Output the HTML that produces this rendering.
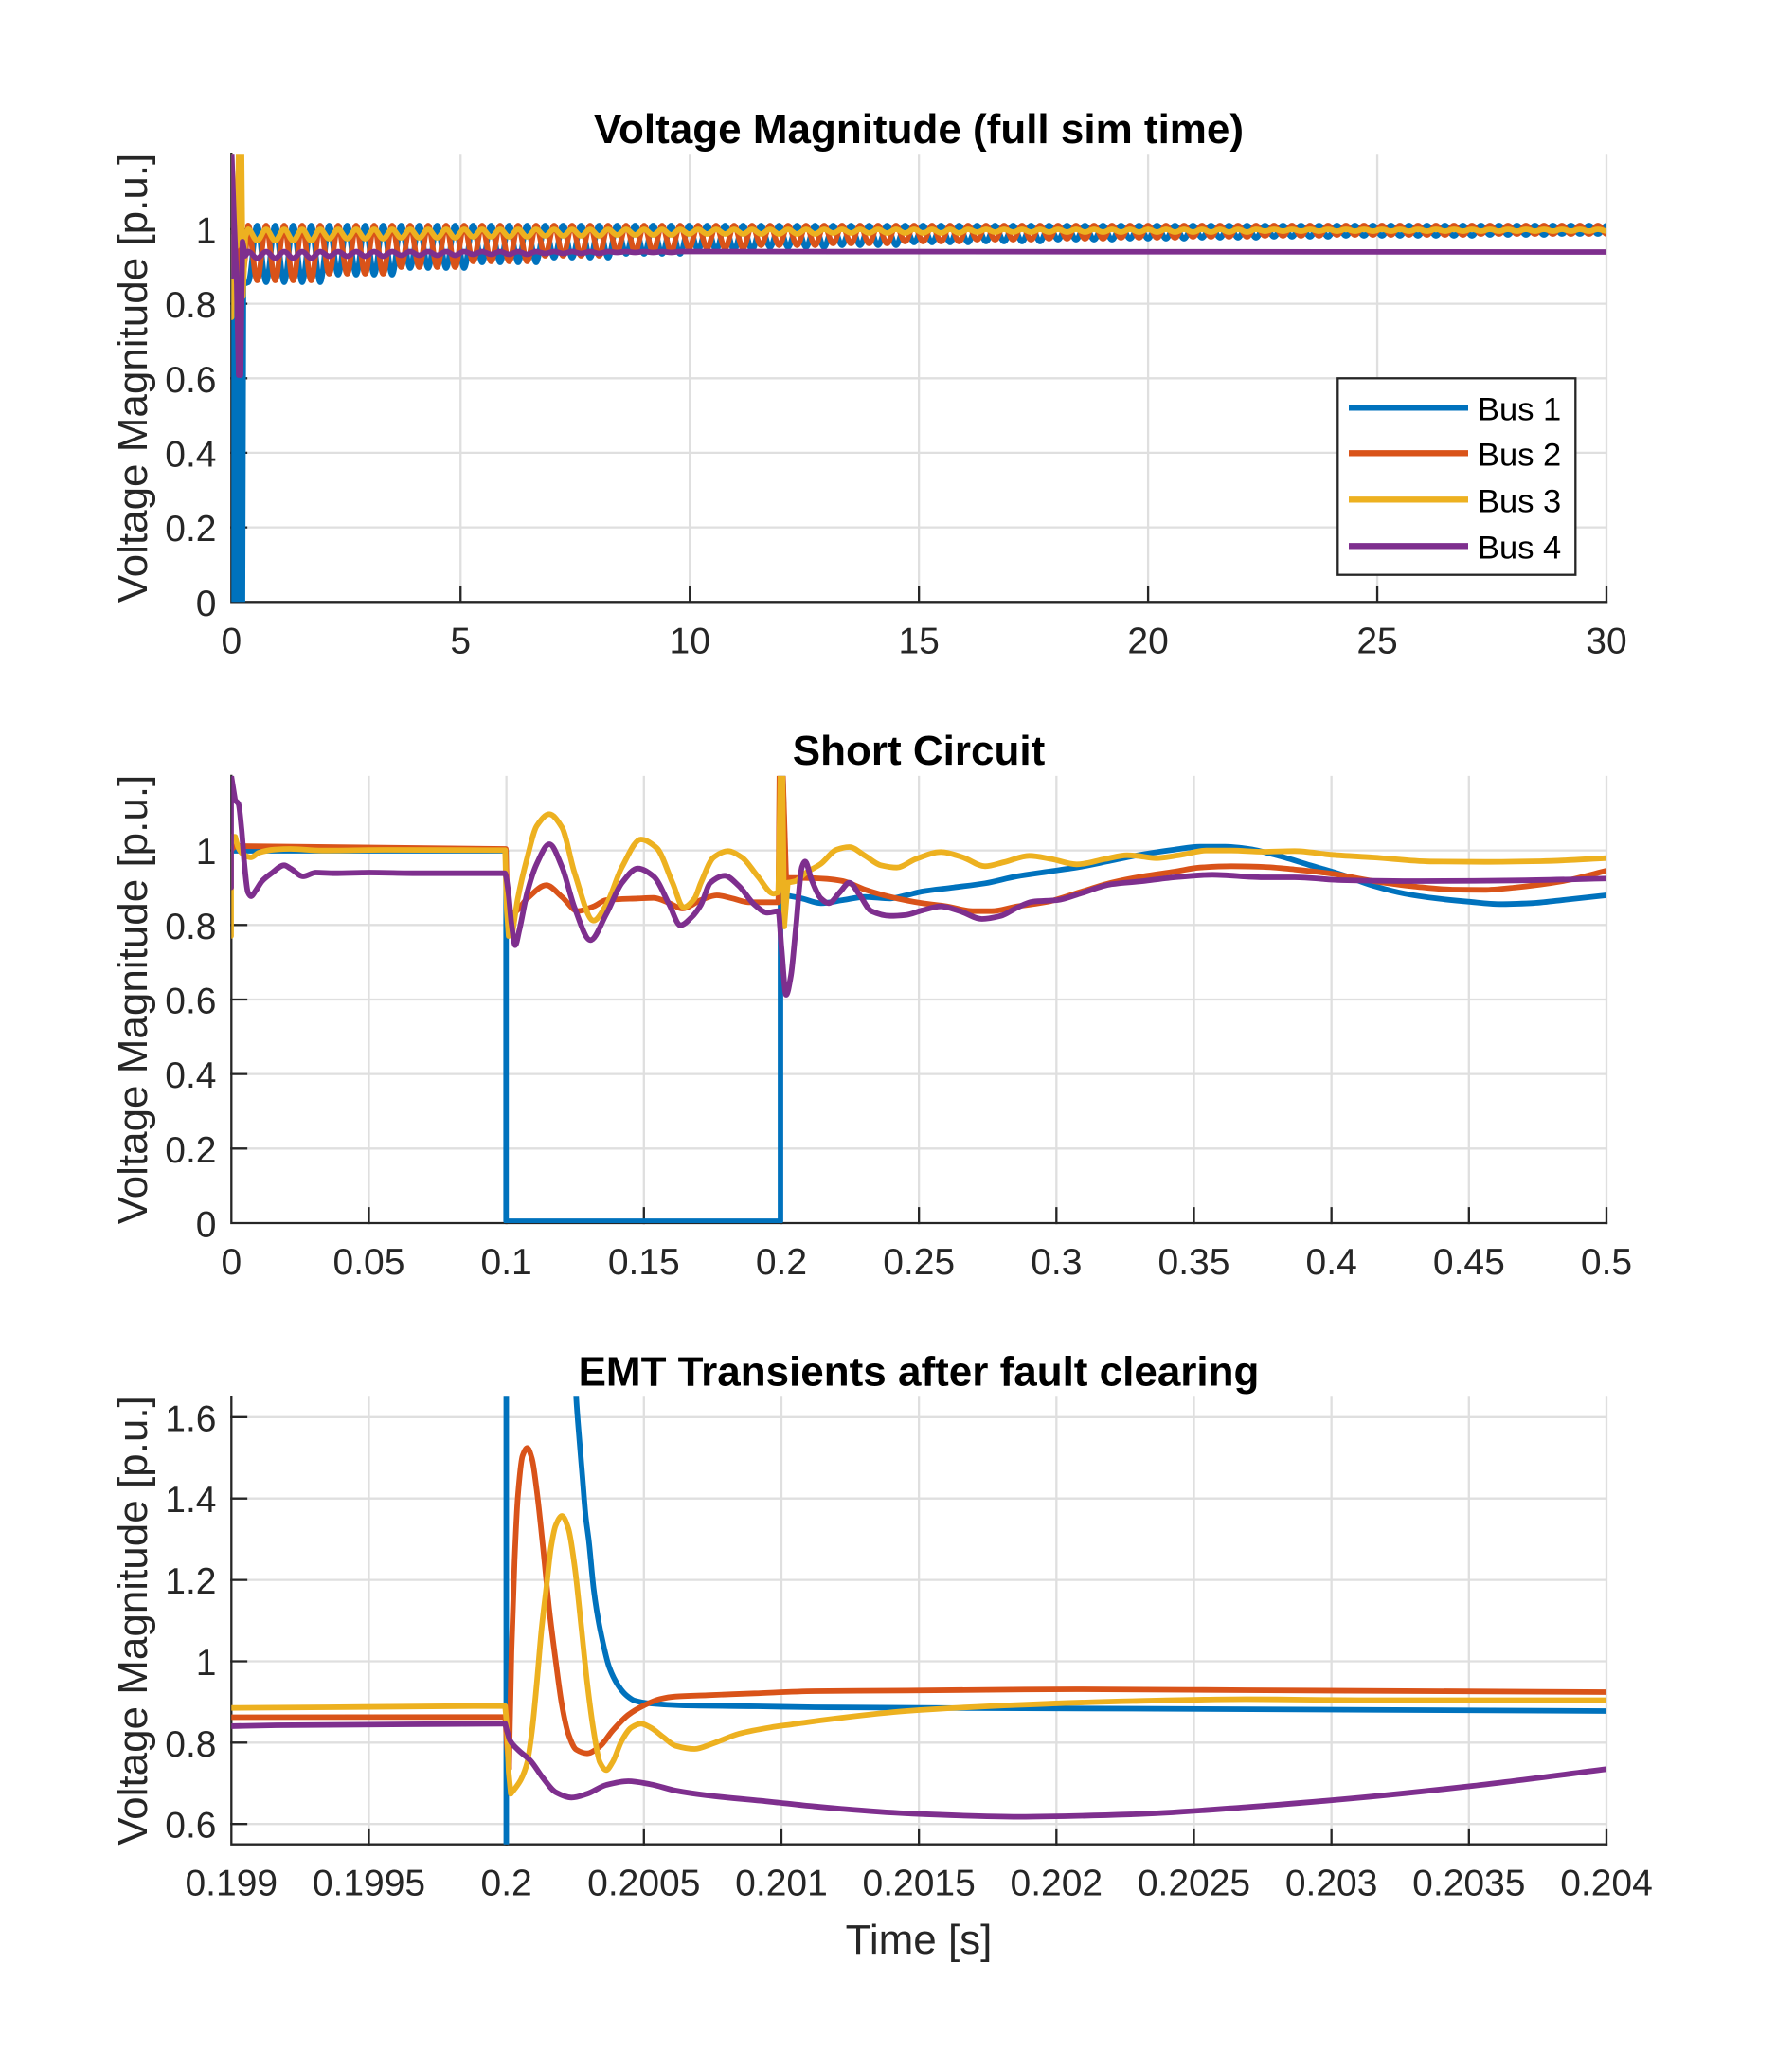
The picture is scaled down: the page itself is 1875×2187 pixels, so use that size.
<!DOCTYPE html>
<html>
<head>
<meta charset="utf-8">
<style>
html,body{margin:0;padding:0;background:#fff;}
svg{display:block;}
.tk{font-family:"Liberation Sans",Arial,sans-serif;font-size:39px;fill:#262626;}
.lb{font-family:"Liberation Sans",Arial,sans-serif;font-size:44px;fill:#262626;}
.tt{font-family:"Liberation Sans",Arial,sans-serif;font-size:44px;font-weight:bold;fill:#000;}
.lg{font-family:"Liberation Sans",Arial,sans-serif;font-size:34.5px;fill:#000;}
.g{stroke:#dfdfdf;stroke-width:2.3;fill:none;}
.ax{stroke:#262626;stroke-width:2.3;fill:none;stroke-linecap:square;}
.d{fill:none;stroke-width:5.8;stroke-linejoin:round;stroke-linecap:round;}
.b{stroke:#0072BD;} .o{stroke:#D95319;} .y{stroke:#EDB120;} .p{stroke:#7E2F8E;}
</style>
</head>
<body>
<svg width="1875" height="2187" viewBox="0 0 1875 2187" xmlns="http://www.w3.org/2000/svg">
<defs>
<clipPath id="c1"><rect x="244.3" y="163.2" width="1451.7" height="472.1"/></clipPath>
<clipPath id="c2"><rect x="244.3" y="818.9" width="1451.7" height="472.1"/></clipPath>
<clipPath id="c3"><rect x="244.3" y="1474.3" width="1451.7" height="472.4"/></clipPath>
</defs>

<!-- ================= AXES 1 ================= -->
<g class="g">
<path d="M486.25,163.2V635.3M728.2,163.2V635.3M970.15,163.2V635.3M1212.1,163.2V635.3M1454.05,163.2V635.3M1696,163.2V635.3"/>
<path d="M244.3,556.6H1696M244.3,477.9H1696M244.3,399.3H1696M244.3,320.6H1696M244.3,241.9H1696"/>
</g>
<g class="ax">
<path d="M244.3,163.2V635.3H1696"/>
<path d="M486.25,635.3v-15.7M728.2,635.3v-15.7M970.15,635.3v-15.7M1212.1,635.3v-15.7M1454.05,635.3v-15.7M1696,635.3v-15.7"/>
<path d="M244.3,556.6h15.7M244.3,477.9h15.7M244.3,399.3h15.7M244.3,320.6h15.7M244.3,241.9h15.7"/>
</g>
<g clip-path="url(#c1)">
<path class="d b" d="M246,250 L246,640 L249,640 L250,255 L253,640 L256,640 L257,300 L262,298"/>
<path class="d b" d="M262,298 C265.4,298 268.1,238 271.5,238 c3.4 0 6.1 60 9.5 60 3.4 0 6.1-60 9.5-60 3.4 0 6.1 60 9.5 60 3.4 0 6.1-60 9.5-60 3.4 0 6.1 60 9.5 60 3.4 0 6.1-60 9.5-60 3.4 0 6.1 60 9.5 60 3.4 0 6.1-60 9.5-60 3.4 0 6.1 52 9.5 52 3.4 0 6.1-52 9.5-52 3.4 0 6.1 52 9.5 52 3.4 0 6.1-52 9.5-52 3.4 0 6.1 52 9.5 52 3.4 0 6.1-52 9.5-52 3.4 0 6.1 52 9.5 52 3.4 0 6.1-52 9.5-52 3.4 0 6.1 45 9.5 45 3.4 0 6.1-45 9.5-45 3.4 0 6.1 45 9.5 45 3.4 0 6.1-45 9.5-45 3.4 0 6.1 45 9.5 45 3.4 0 6.1-45 9.5-45 3.4 0 6.1 45 9.5 45 3.4 0 6.1-45 9.5-45 3.4 0 6.1 39 9.5 39 3.4 0 6.1-39 9.5-39 3.4 0 6.1 39 9.5 39 3.4 0 6.1-39 9.5-39 3.4 0 6.1 39 9.5 39 3.4 0 6.1-39 9.5-39 3.4 0 6.1 39 9.5 39 3.4 0 6.1-39 9.5-39 3.4 0 6.1 34 9.5 34 3.4 0 6.1-34 9.5-34 3.4 0 6.1 34 9.5 34 3.4 0 6.1-34 9.5-34 3.4 0 6.1 34 9.5 34 3.4 0 6.1-34 9.5-34 3.4 0 6.1 34 9.5 34 3.4 0 6.1-34 9.5-34 3.4 0 6.1 30 9.5 30 3.4 0 6.1-30 9.5-30 3.4 0 6.1 30 9.5 30 3.4 0 6.1-30 9.5-30 3.4 0 6.1 30 9.5 30 3.4 0 6.1-30 9.5-30 3.4 0 6.1 30 9.5 30 3.4 0 6.1-30 9.5-30 3.4 0 6.1 26 9.5 26 3.4 0 6.1-26 9.5-26 3.4 0 6.1 26 9.5 26 3.4 0 6.1-26 9.5-26 3.4 0 6.1 26 9.5 26 3.4 0 6.1-26 9.5-26 3.4 0 6.1 26 9.5 26 3.4 0 6.1-26 9.5-26 3.4 0 6.1 23 9.5 23 3.4 0 6.1-23 9.5-23 3.4 0 6.1 23 9.5 23 3.4 0 6.1-23 9.5-23 3.4 0 6.1 23 9.5 23 3.4 0 6.1-23 9.5-23 3.4 0 6.1 23 9.5 23 3.4 0 6.1-23 9.5-23 3.4 0 6.1 21 9.5 21 3.4 0 6.1-21 9.5-21 3.4 0 6.1 21 9.5 21 3.4 0 6.1-21 9.5-21 3.4 0 6.1 21 9.5 21 3.4 0 6.1-21 9.5-21 3.4 0 6.1 21 9.5 21 3.4 0 6.1-21 9.5-21 3.4 0 6.1 18 9.5 18 3.4 0 6.1-18 9.5-18 3.4 0 6.1 18 9.5 18 3.4 0 6.1-18 9.5-18 3.4 0 6.1 18 9.5 18 3.4 0 6.1-18 9.5-18 3.4 0 6.1 18 9.5 18 3.4 0 6.1-18 9.5-18 3.4 0 6.1 17 9.5 17 3.4 0 6.1-17 9.5-17 3.4 0 6.1 17 9.5 17 3.4 0 6.1-17 9.5-17 3.4 0 6.1 17 9.5 17 3.4 0 6.1-17 9.5-17 3.4 0 6.1 17 9.5 17 3.4 0 6.1-17 9.5-17 3.4 0 6.1 15 9.5 15 3.4 0 6.1-15 9.5-15 3.4 0 6.1 15 9.5 15 3.4 0 6.1-15 9.5-15 3.4 0 6.1 15 9.5 15 3.4 0 6.1-15 9.5-15 3.4 0 6.1 15 9.5 15 3.4 0 6.1-15 9.5-15 3.4 0 6.1 14 9.5 14 3.4 0 6.1-14 9.5-14 3.4 0 6.1 14 9.5 14 3.4 0 6.1-14 9.5-14 3.4 0 6.1 14 9.5 14 3.4 0 6.1-14 9.5-14 3.4 0 6.1 14 9.5 14 3.4 0 6.1-14 9.5-14 3.4 0 6.1 13 9.5 13 3.4 0 6.1-13 9.5-13 3.4 0 6.1 13 9.5 13 3.4 0 6.1-13 9.5-13 3.4 0 6.1 13 9.5 13 3.4 0 6.1-13 9.5-13 3.4 0 6.1 13 9.5 13 3.4 0 6.1-13 9.5-13 3.4 0 6.1 12 9.5 12 3.4 0 6.1-12 9.5-12 3.4 0 6.1 12 9.5 12 3.4 0 6.1-12 9.5-12 3.4 0 6.1 12 9.5 12 3.4 0 6.1-12 9.5-12 3.4 0 6.1 12 9.5 12 3.4 0 6.1-12 9.5-12 3.4 0 6.1 11 9.5 11 3.4 0 6.1-11 9.5-11 3.4 0 6.1 11 9.5 11 3.4 0 6.1-11 9.5-11 3.4 0 6.1 11 9.5 11 3.4 0 6.1-11 9.5-11 3.4 0 6.1 11 9.5 11 3.4 0 6.1-11 9.5-11 3.4 0 6.1 11 9.5 11 3.4 0 6.1-11 9.5-11 3.4 0 6.1 11 9.5 11 3.4 0 6.1-11 9.5-11 3.4 0 6.1 11 9.5 11 3.4 0 6.1-11 9.5-11 3.4 0 6.1 11 9.5 11 3.4 0 6.1-11 9.5-11 3.4 0 6.1 10 9.5 10 3.4 0 6.1-10 9.5-10 3.4 0 6.1 10 9.5 10 3.4 0 6.1-10 9.5-10 3.4 0 6.1 10 9.5 10 3.4 0 6.1-10 9.5-10 3.4 0 6.1 10 9.5 10 3.4 0 6.1-10 9.5-10 3.4 0 6.1 9 9.5 9 3.4 0 6.1-9 9.5-9 3.4 0 6.1 9 9.5 9 3.4 0 6.1-9 9.5-9 3.4 0 6.1 9 9.5 9 3.4 0 6.1-9 9.5-9 3.4 0 6.1 9 9.5 9 3.4 0 6.1-9 9.5-9"/>
<path class="d o" d="M245,250 L248,300 L252,240 L256,300 L262,238"/>
<path class="d o" d="M262,238 c3.4 0 6.1 58 9.5 58 3.4 0 6.1-58 9.5-58 3.4 0 6.1 58 9.5 58 3.4 0 6.1-58 9.5-58 3.4 0 6.1 58 9.5 58 3.4 0 6.1-58 9.5-58 3.4 0 6.1 58 9.5 58 3.4 0 6.1-58 9.5-58 3.4 0 6.1 51 9.5 51 3.4 0 6.1-51 9.5-51 3.4 0 6.1 51 9.5 51 3.4 0 6.1-51 9.5-51 3.4 0 6.1 51 9.5 51 3.4 0 6.1-51 9.5-51 3.4 0 6.1 51 9.5 51 3.4 0 6.1-51 9.5-51 3.4 0 6.1 44 9.5 44 3.4 0 6.1-44 9.5-44 3.4 0 6.1 44 9.5 44 3.4 0 6.1-44 9.5-44 3.4 0 6.1 44 9.5 44 3.4 0 6.1-44 9.5-44 3.4 0 6.1 44 9.5 44 3.4 0 6.1-44 9.5-44 3.4 0 6.1 38 9.5 38 3.4 0 6.1-38 9.5-38 3.4 0 6.1 38 9.5 38 3.4 0 6.1-38 9.5-38 3.4 0 6.1 38 9.5 38 3.4 0 6.1-38 9.5-38 3.4 0 6.1 38 9.5 38 3.4 0 6.1-38 9.5-38 3.4 0 6.1 32 9.5 32 3.4 0 6.1-32 9.5-32 3.4 0 6.1 32 9.5 32 3.4 0 6.1-32 9.5-32 3.4 0 6.1 32 9.5 32 3.4 0 6.1-32 9.5-32 3.4 0 6.1 32 9.5 32 3.4 0 6.1-32 9.5-32 3.4 0 6.1 28 9.5 28 3.4 0 6.1-28 9.5-28 3.4 0 6.1 28 9.5 28 3.4 0 6.1-28 9.5-28 3.4 0 6.1 28 9.5 28 3.4 0 6.1-28 9.5-28 3.4 0 6.1 28 9.5 28 3.4 0 6.1-28 9.5-28 3.4 0 6.1 24 9.5 24 3.4 0 6.1-24 9.5-24 3.4 0 6.1 24 9.5 24 3.4 0 6.1-24 9.5-24 3.4 0 6.1 24 9.5 24 3.4 0 6.1-24 9.5-24 3.4 0 6.1 24 9.5 24 3.4 0 6.1-24 9.5-24 3.4 0 6.1 21 9.5 21 3.4 0 6.1-21 9.5-21 3.4 0 6.1 21 9.5 21 3.4 0 6.1-21 9.5-21 3.4 0 6.1 21 9.5 21 3.4 0 6.1-21 9.5-21 3.4 0 6.1 21 9.5 21 3.4 0 6.1-21 9.5-21 3.4 0 6.1 19 9.5 19 3.4 0 6.1-19 9.5-19 3.4 0 6.1 19 9.5 19 3.4 0 6.1-19 9.5-19 3.4 0 6.1 19 9.5 19 3.4 0 6.1-19 9.5-19 3.4 0 6.1 19 9.5 19 3.4 0 6.1-19 9.5-19 3.4 0 6.1 17 9.5 17 3.4 0 6.1-17 9.5-17 3.4 0 6.1 17 9.5 17 3.4 0 6.1-17 9.5-17 3.4 0 6.1 17 9.5 17 3.4 0 6.1-17 9.5-17 3.4 0 6.1 17 9.5 17 3.4 0 6.1-17 9.5-17 3.4 0 6.1 15 9.5 15 3.4 0 6.1-15 9.5-15 3.4 0 6.1 15 9.5 15 3.4 0 6.1-15 9.5-15 3.4 0 6.1 15 9.5 15 3.4 0 6.1-15 9.5-15 3.4 0 6.1 15 9.5 15 3.4 0 6.1-15 9.5-15 3.4 0 6.1 14 9.5 14 3.4 0 6.1-14 9.5-14 3.4 0 6.1 14 9.5 14 3.4 0 6.1-14 9.5-14 3.4 0 6.1 14 9.5 14 3.4 0 6.1-14 9.5-14 3.4 0 6.1 14 9.5 14 3.4 0 6.1-14 9.5-14 3.4 0 6.1 13 9.5 13 3.4 0 6.1-13 9.5-13 3.4 0 6.1 13 9.5 13 3.4 0 6.1-13 9.5-13 3.4 0 6.1 13 9.5 13 3.4 0 6.1-13 9.5-13 3.4 0 6.1 13 9.5 13 3.4 0 6.1-13 9.5-13 3.4 0 6.1 12 9.5 12 3.4 0 6.1-12 9.5-12 3.4 0 6.1 12 9.5 12 3.4 0 6.1-12 9.5-12 3.4 0 6.1 12 9.5 12 3.4 0 6.1-12 9.5-12 3.4 0 6.1 12 9.5 12 3.4 0 6.1-12 9.5-12 3.4 0 6.1 11 9.5 11 3.4 0 6.1-11 9.5-11 3.4 0 6.1 11 9.5 11 3.4 0 6.1-11 9.5-11 3.4 0 6.1 11 9.5 11 3.4 0 6.1-11 9.5-11 3.4 0 6.1 11 9.5 11 3.4 0 6.1-11 9.5-11 3.4 0 6.1 10 9.5 10 3.4 0 6.1-10 9.5-10 3.4 0 6.1 10 9.5 10 3.4 0 6.1-10 9.5-10 3.4 0 6.1 10 9.5 10 3.4 0 6.1-10 9.5-10 3.4 0 6.1 10 9.5 10 3.4 0 6.1-10 9.5-10 3.4 0 6.1 10 9.5 10 3.4 0 6.1-10 9.5-10 3.4 0 6.1 10 9.5 10 3.4 0 6.1-10 9.5-10 3.4 0 6.1 10 9.5 10 3.4 0 6.1-10 9.5-10 3.4 0 6.1 10 9.5 10 3.4 0 6.1-10 9.5-10 3.4 0 6.1 9 9.5 9 3.4 0 6.1-9 9.5-9 3.4 0 6.1 9 9.5 9 3.4 0 6.1-9 9.5-9 3.4 0 6.1 9 9.5 9 3.4 0 6.1-9 9.5-9 3.4 0 6.1 9 9.5 9 3.4 0 6.1-9 9.5-9 3.4 0 6.1 9 9.5 9 3.4 0 6.1-9 9.5-9 3.4 0 6.1 9 9.5 9 3.4 0 6.1-9 9.5-9 3.4 0 6.1 9 9.5 9 3.4 0 6.1-9 9.5-9 3.4 0 6.1 9 9.5 9 3.4 0 6.1-9 9.5-9"/>
<path class="d y" d="M244.5,335 L244.5,160 L247,250 L250,260 L252,160 L255,160 L256.5,313 L259,250 L262,242"/>
<path class="d y" d="M262,242 c3.4 0 6.1 12 9.5 12 3.4 0 6.1-12 9.5-12 3.4 0 6.1 12 9.5 12 3.4 0 6.1-12 9.5-12 3.4 0 6.1 12 9.5 12 3.4 0 6.1-12 9.5-12 3.4 0 6.1 12 9.5 12 3.4 0 6.1-12 9.5-12 3.4 0 6.1 10 9.5 10 3.4 0 6.1-10 9.5-10 3.4 0 6.1 10 9.5 10 3.4 0 6.1-10 9.5-10 3.4 0 6.1 10 9.5 10 3.4 0 6.1-10 9.5-10 3.4 0 6.1 10 9.5 10 3.4 0 6.1-10 9.5-10 3.4 0 6.1 9 9.5 9 3.4 0 6.1-9 9.5-9 3.4 0 6.1 9 9.5 9 3.4 0 6.1-9 9.5-9 3.4 0 6.1 9 9.5 9 3.4 0 6.1-9 9.5-9 3.4 0 6.1 9 9.5 9 3.4 0 6.1-9 9.5-9 3.4 0 6.1 8 9.5 8 3.4 0 6.1-8 9.5-8 3.4 0 6.1 8 9.5 8 3.4 0 6.1-8 9.5-8 3.4 0 6.1 8 9.5 8 3.4 0 6.1-8 9.5-8 3.4 0 6.1 8 9.5 8 3.4 0 6.1-8 9.5-8 3.4 0 6.1 7 9.5 7 3.4 0 6.1-7 9.5-7 3.4 0 6.1 7 9.5 7 3.4 0 6.1-7 9.5-7 3.4 0 6.1 7 9.5 7 3.4 0 6.1-7 9.5-7 3.4 0 6.1 7 9.5 7 3.4 0 6.1-7 9.5-7 3.4 0 6.1 6 9.5 6 3.4 0 6.1-6 9.5-6 3.4 0 6.1 6 9.5 6 3.4 0 6.1-6 9.5-6 3.4 0 6.1 6 9.5 6 3.4 0 6.1-6 9.5-6 3.4 0 6.1 6 9.5 6 3.4 0 6.1-6 9.5-6 3.4 0 6.1 5 9.5 5 3.4 0 6.1-5 9.5-5 3.4 0 6.1 5 9.5 5 3.4 0 6.1-5 9.5-5 3.4 0 6.1 5 9.5 5 3.4 0 6.1-5 9.5-5 3.4 0 6.1 5 9.5 5 3.4 0 6.1-5 9.5-5 3.4 0 6.1 5 9.5 5 3.4 0 6.1-5 9.5-5 3.4 0 6.1 5 9.5 5 3.4 0 6.1-5 9.5-5 3.4 0 6.1 5 9.5 5 3.4 0 6.1-5 9.5-5 3.4 0 6.1 5 9.5 5 3.4 0 6.1-5 9.5-5 3.4 0 6.1 4 9.5 4 3.4 0 6.1-4 9.5-4 3.4 0 6.1 4 9.5 4 3.4 0 6.1-4 9.5-4 3.4 0 6.1 4 9.5 4 3.4 0 6.1-4 9.5-4 3.4 0 6.1 4 9.5 4 3.4 0 6.1-4 9.5-4 3.4 0 6.1 4 9.5 4 3.4 0 6.1-4 9.5-4 3.4 0 6.1 4 9.5 4 3.4 0 6.1-4 9.5-4 3.4 0 6.1 4 9.5 4 3.4 0 6.1-4 9.5-4 3.4 0 6.1 4 9.5 4 3.4 0 6.1-4 9.5-4 3.4 0 6.1 3 9.5 3 3.4 0 6.1-3 9.5-3 3.4 0 6.1 3 9.5 3 3.4 0 6.1-3 9.5-3 3.4 0 6.1 3 9.5 3 3.4 0 6.1-3 9.5-3 3.4 0 6.1 3 9.5 3 3.4 0 6.1-3 9.5-3 3.4 0 6.1 3 9.5 3 3.4 0 6.1-3 9.5-3 3.4 0 6.1 3 9.5 3 3.4 0 6.1-3 9.5-3 3.4 0 6.1 3 9.5 3 3.4 0 6.1-3 9.5-3 3.4 0 6.1 3 9.5 3 3.4 0 6.1-3 9.5-3 3.4 0 6.1 3 9.5 3 3.4 0 6.1-3 9.5-3 3.4 0 6.1 3 9.5 3 3.4 0 6.1-3 9.5-3 3.4 0 6.1 3 9.5 3 3.4 0 6.1-3 9.5-3 3.4 0 6.1 3 9.5 3 3.4 0 6.1-3 9.5-3 3.4 0 6.1 3 9.5 3 3.4 0 6.1-3 9.5-3 3.4 0 6.1 3 9.5 3 3.4 0 6.1-3 9.5-3 3.4 0 6.1 3 9.5 3 3.4 0 6.1-3 9.5-3 3.4 0 6.1 3 9.5 3 3.4 0 6.1-3 9.5-3 3.4 0 6.1 2 9.5 2 3.4 0 6.1-2 9.5-2 3.4 0 6.1 2 9.5 2 3.4 0 6.1-2 9.5-2 3.4 0 6.1 2 9.5 2 3.4 0 6.1-2 9.5-2 3.4 0 6.1 2 9.5 2 3.4 0 6.1-2 9.5-2 3.4 0 6.1 2 9.5 2 3.4 0 6.1-2 9.5-2 3.4 0 6.1 2 9.5 2 3.4 0 6.1-2 9.5-2 3.4 0 6.1 2 9.5 2 3.4 0 6.1-2 9.5-2 3.4 0 6.1 2 9.5 2 3.4 0 6.1-2 9.5-2 3.4 0 6.1 2 9.5 2 3.4 0 6.1-2 9.5-2 3.4 0 6.1 2 9.5 2 3.4 0 6.1-2 9.5-2 3.4 0 6.1 2 9.5 2 3.4 0 6.1-2 9.5-2 3.4 0 6.1 2 9.5 2 3.4 0 6.1-2 9.5-2 3.4 0 6.1 2 9.5 2 3.4 0 6.1-2 9.5-2 3.4 0 6.1 2 9.5 2 3.4 0 6.1-2 9.5-2 3.4 0 6.1 2 9.5 2 3.4 0 6.1-2 9.5-2 3.4 0 6.1 2 9.5 2 3.4 0 6.1-2 9.5-2 3.4 0 6.1 2 9.5 2 3.4 0 6.1-2 9.5-2 3.4 0 6.1 2 9.5 2 3.4 0 6.1-2 9.5-2 3.4 0 6.1 2 9.5 2 3.4 0 6.1-2 9.5-2 3.4 0 6.1 2 9.5 2 3.4 0 6.1-2 9.5-2"/>
<path class="d p" d="M244.5,292 L244.5,160 L247,230 L250,300 L252,396 L254,396 L256,255 L259,270 L262,265.5"/>
<path class="d p" d="M262,265.5 c3.4 0 6.1 7 9.5 7 3.4 0 6.1-7 9.5-7 3.4 0 6.1 7 9.5 7 3.4 0 6.1-7 9.5-7 3.4 0 6.1 7 9.5 7 3.4 0 6.1-7 9.5-7 3.4 0 6.1 7 9.5 7 3.4 0 6.1-7 9.5-7 3.4 0 6.1 5 9.5 5 3.4 0 6.1-5 9.5-5 3.4 0 6.1 5 9.5 5 3.4 0 6.1-5 9.5-5 3.4 0 6.1 5 9.5 5 3.4 0 6.1-5 9.5-5 3.4 0 6.1 5 9.5 5 3.4 0 6.1-5 9.5-5 3.4 0 6.1 4 9.5 4 3.4 0 6.1-4 9.5-4 3.4 0 6.1 4 9.5 4 3.4 0 6.1-4 9.5-4 3.4 0 6.1 4 9.5 4 3.4 0 6.1-4 9.5-4 3.4 0 6.1 4 9.5 4 3.4 0 6.1-4 9.5-4 3.4 0 6.1 3 9.5 3 3.4 0 6.1-3 9.5-3 3.4 0 6.1 3 9.5 3 3.4 0 6.1-3 9.5-3 3.4 0 6.1 3 9.5 3 3.4 0 6.1-3 9.5-3 3.4 0 6.1 3 9.5 3 3.4 0 6.1-3 9.5-3 3.4 0 6.1 2 9.5 2 3.4 0 6.1-2 9.5-2 3.4 0 6.1 2 9.5 2 3.4 0 6.1-2 9.5-2 3.4 0 6.1 2 9.5 2 3.4 0 6.1-2 9.5-2 3.4 0 6.1 2 9.5 2 3.4 0 6.1-2 9.5-2 3.4 0 6.1 1 9.5 1 3.4 0 6.1-1 9.5-1 3.4 0 6.1 1 9.5 1 3.4 0 6.1-1 9.5-1 3.4 0 6.1 1 9.5 1 3.4 0 6.1-1 9.5-1 3.4 0 6.1 1 9.5 1 3.4 0 6.1-1 9.5-1 L1700,266"/>
</g>
<!-- legend -->
<rect x="1412.3" y="399.3" width="251" height="207.4" fill="#fff" stroke="#262626" stroke-width="2.3"/>
<g stroke-width="6.3">
<path d="M1424,430.3H1550" stroke="#0072BD"/>
<path d="M1424,478.3H1550" stroke="#D95319"/>
<path d="M1424,527.3H1550" stroke="#EDB120"/>
<path d="M1424,576.3H1550" stroke="#7E2F8E"/>
</g>
<text class="lg" x="1560" y="443.5">Bus 1</text>
<text class="lg" x="1560" y="491.5">Bus 2</text>
<text class="lg" x="1560" y="540.5">Bus 3</text>
<text class="lg" x="1560" y="589.5">Bus 4</text>
<!-- labels axes 1 -->
<g class="tk" text-anchor="end">
<text x="228.5" y="649.8">0</text>
<text x="228.5" y="571.1">0.2</text>
<text x="228.5" y="492.4">0.4</text>
<text x="228.5" y="413.8">0.6</text>
<text x="228.5" y="335.1">0.8</text>
<text x="228.5" y="256.4">1</text>
</g>
<g class="tk" text-anchor="middle">
<text x="244.3" y="689.3">0</text>
<text x="486.25" y="689.3">5</text>
<text x="728.2" y="689.3">10</text>
<text x="970.15" y="689.3">15</text>
<text x="1212.1" y="689.3">20</text>
<text x="1454.05" y="689.3">25</text>
<text x="1696" y="689.3">30</text>
</g>
<text class="tt" x="970" y="151" text-anchor="middle">Voltage Magnitude (full sim time)</text>
<text class="lb" text-anchor="middle" transform="translate(155,399) rotate(-90)">Voltage Magnitude [p.u.]</text>

<!-- ================= AXES 2 ================= -->
<g class="g">
<path d="M389.47,818.9V1291M534.64,818.9V1291M679.81,818.9V1291M824.98,818.9V1291M970.15,818.9V1291M1115.32,818.9V1291M1260.49,818.9V1291M1405.66,818.9V1291M1550.83,818.9V1291M1696,818.9V1291"/>
<path d="M244.3,1212.3H1696M244.3,1133.6H1696M244.3,1055H1696M244.3,976.3H1696M244.3,897.6H1696"/>
</g>
<g class="ax">
<path d="M244.3,818.9V1291H1696"/>
<path d="M389.47,1291v-15.7M534.64,1291v-15.7M679.81,1291v-15.7M824.98,1291v-15.7M970.15,1291v-15.7M1115.32,1291v-15.7M1260.49,1291v-15.7M1405.66,1291v-15.7M1550.83,1291v-15.7M1696,1291v-15.7"/>
<path d="M244.3,1212.3h15.7M244.3,1133.6h15.7M244.3,1055h15.7M244.3,976.3h15.7M244.3,897.6h15.7"/>
</g>
<g clip-path="url(#c2)">
<path class="d b" d="M244,898 L534.3,898 L534.3,1289 L824,1289 L824,800 L826,800 L830,945"/>
<path class="d b sm" d="M830,945 L846.7,948.3 L866.7,953.3 L890,950 L913.3,946.7 L940,948.3 L956.7,945 L973.3,941 L1006.7,936.7 L1040,932.3 L1073.3,925 L1106.7,920 L1140,915 L1173.3,908.3 L1206.7,901.7 L1240,896.7 L1266.7,893.7 L1293.3,893.7 L1316.7,895.7 L1350,903.3 L1383.3,913.3 L1416.7,923.3 L1450,935 L1483.3,943.3 L1516.7,948.3 L1550,951.7 L1583.3,954.3 L1616.7,953.3 L1650,950 L1700,944.5"/>
<path class="d o" d="M244,897 L248,893 L534,896 L536,962"/>
<path class="d o sm" d="M536,962 L541.7,963.3 L556.7,948.3 L576.7,934.3 L593.3,946.7 L610,961.7 L626.7,956.7 L640,950 L673.3,948.3 L690,947.7 L706.7,953.3 L720,959 L740,950 L756.7,945 L773.3,948.3 L790,952.3 L821.7,952.3"/>
<path class="d o" d="M821.7,952.3 L823,800 L826,800 L830,926.7"/>
<path class="d o sm" d="M830,926.7 L850,926.7 L873.3,927.7 L890,930 L913.3,939 L940,946.7 L973.3,953.3 L1000,956.7 L1026.7,961.7 L1046.7,961.7 L1073.3,956.7 L1106.7,951.7 L1140,941.7 L1173.3,931.7 L1206.7,925 L1240,920 L1266.7,915.7 L1300,914.3 L1333.3,915 L1366.7,917.7 L1406.7,922.3 L1450,930 L1493.3,935.7 L1533.3,939 L1566.7,939.3 L1600,936.7 L1650,930 L1700,918"/>
<path class="d y" d="M244,988 L244,883 L248.3,883.3"/>
<path class="d y sm" d="M248.3,883.3 L251.7,895 L256.7,901.7 L265,905 L273.3,900 L290,896.7 L306.7,896 L340,897.7 L406.7,897 L533.3,897.3"/>
<path class="d y" d="M533.3,897.3 L535,960 L537,988 L541,985"/>
<path class="d y sm" d="M541,985 L546.7,948.3 L556.7,905 L566.7,871.7 L580,859.3 L593.3,873.3 L606.7,921.7 L626.7,971.7 L640,955 L656.7,915 L676.7,886 L693.3,895 L710,931.7 L721.7,957.7 L733.3,948.3 L740,931.7 L753.3,905 L768.3,898.3 L783.3,905 L800,925 L816.7,943.3 L821.7,941.7"/>
<path class="d y" d="M821.7,941.7 L824,812 L826,812 L828,978 L831.7,931.7"/>
<path class="d y sm" d="M831.7,931.7 L840,930 L850,921.7 L866.7,911.7 L883.3,896.7 L896.7,894 L913.3,903.3 L930,913.3 L946.7,915.7 L966.7,906.7 L993.3,899.3 L1016.7,905 L1040,914.3 L1060,910 L1086.7,903.3 L1110,906.7 L1136.7,912.3 L1166.7,906.7 L1190,902.7 L1200,903.3 L1220,905.7 L1250,901.7 L1273.3,897.7 L1300,897.7 L1333.3,899 L1366.7,898.3 L1406.7,902.3 L1450,905 L1510,909.3 L1566.7,909.7 L1626.7,909 L1700,905.5"/>
<path class="d p" d="M244,936.7 L244,818 L248.3,845"/>
<path class="d p sm" d="M248.3,845 L251.7,848.3 L255,875 L258.3,915 L261.7,941.7 L265,946 L270,940 L276.7,930 L286.7,921.7 L300,913.3 L306.7,916.7 L320,925 L333.3,921 L353.3,921.7 L390,921 L440,921.7 L533,921.7 L536.7,941.7 L540,975 L544,997.7 L548.3,981.7 L556.7,941.7 L566.7,911.7 L580,891 L593.3,915 L606.7,958.3 L623.3,992.3 L640,965 L656.7,931.7 L673.3,916.7 L690,925 L706.7,955 L718.3,976.7 L730,968.3 L740,955 L750,931.7 L765,924.3 L780,935 L796.7,955 L810,963.3 L821.7,961.7 L825,1000 L830,1050 L835,1030 L840,981.7 L846.7,915 L850,909.3 L856.7,928.3 L866.7,948.3 L875,953.3 L886.7,941.7 L896.7,931.7 L906.7,943.3 L920,961.7 L940,966.7 L956.7,965.7 L973.3,961 L993.3,956.7 L1013.3,961.7 L1036.7,970 L1056.7,966.7 L1073.3,958.3 L1090,951.7 L1116.7,950 L1140,943.3 L1173.3,933.3 L1206.7,930 L1233.3,926.7 L1280,923.3 L1333.3,926 L1366.7,926 L1416.7,929 L1500,930 L1600,929.3 L1700,927.2"/>
</g>
<g class="tk" text-anchor="end">
<text x="228.5" y="1305.5">0</text>
<text x="228.5" y="1226.8">0.2</text>
<text x="228.5" y="1148.1">0.4</text>
<text x="228.5" y="1069.5">0.6</text>
<text x="228.5" y="990.8">0.8</text>
<text x="228.5" y="912.1">1</text>
</g>
<g class="tk" text-anchor="middle">
<text x="244.3" y="1345">0</text>
<text x="389.47" y="1345">0.05</text>
<text x="534.64" y="1345">0.1</text>
<text x="679.81" y="1345">0.15</text>
<text x="824.98" y="1345">0.2</text>
<text x="970.15" y="1345">0.25</text>
<text x="1115.32" y="1345">0.3</text>
<text x="1260.49" y="1345">0.35</text>
<text x="1405.66" y="1345">0.4</text>
<text x="1550.83" y="1345">0.45</text>
<text x="1696" y="1345">0.5</text>
</g>
<text class="tt" x="970" y="807" text-anchor="middle">Short Circuit</text>
<text class="lb" text-anchor="middle" transform="translate(155,1055) rotate(-90)">Voltage Magnitude [p.u.]</text>

<!-- ================= AXES 3 ================= -->
<g class="g">
<path d="M389.47,1474.3V1946.7M534.64,1474.3V1946.7M679.81,1474.3V1946.7M824.98,1474.3V1946.7M970.15,1474.3V1946.7M1115.32,1474.3V1946.7M1260.49,1474.3V1946.7M1405.66,1474.3V1946.7M1550.83,1474.3V1946.7M1696,1474.3V1946.7"/>
<path d="M244.3,1925.2H1696M244.3,1839.3H1696M244.3,1753.5H1696M244.3,1667.6H1696M244.3,1581.7H1696M244.3,1495.8H1696"/>
</g>
<g class="ax">
<path d="M244.3,1474.3V1946.7H1696"/>
<path d="M389.47,1946.7v-15.7M534.64,1946.7v-15.7M679.81,1946.7v-15.7M824.98,1946.7v-15.7M970.15,1946.7v-15.7M1115.32,1946.7v-15.7M1260.49,1946.7v-15.7M1405.66,1946.7v-15.7M1550.83,1946.7v-15.7M1696,1946.7v-15.7"/>
<path d="M244.3,1925.2h15.7M244.3,1839.3h15.7M244.3,1753.5h15.7M244.3,1667.6h15.7M244.3,1581.7h15.7M244.3,1495.8h15.7"/>
</g>
<g clip-path="url(#c3)">
<path class="d b" d="M240,1990 L534.5,1990 L534.5,1420 L606,1420"/>
<path class="d b sm" d="M606,1420 L608.3,1474.3 L611.7,1520 L615,1560 L618.3,1600 L621.7,1626.7 L626.7,1676.7 L630,1700 L635,1726.7 L643.3,1760 L653.3,1780 L662,1790 L670,1795 L686.7,1798 L720,1800 L800,1801 L860,1802 L1195.8,1803.5 L1700,1806"/>
<path class="d o" d="M240,1812.5 L533.5,1812.3 L535,1840 L537.5,1866.7"/>
<path class="d o sm" d="M537.5,1866.7 L540,1743.3 L543.3,1646.7 L546.7,1580 L551.7,1536.7 L556.7,1528.3 L561.7,1540 L566.7,1573.3 L573.3,1633.3 L580,1700 L586.7,1753.3 L593.3,1800 L600,1830 L608.3,1846.7 L620,1850.7 L633.3,1843.3 L646.7,1826.7 L663.3,1810 L680,1800 L696.7,1793.3 L713.3,1790.7 L746.7,1789.3 L796.7,1787.3 L860,1785 L956.4,1784.4 L1136,1783 L1315.4,1784 L1700,1786"/>
<path class="d y" d="M240,1802.7 L346,1802 L500,1800.7 L533.3,1800.7 L535,1820 L537,1870 L539.3,1893.3"/>
<path class="d y sm" d="M539.3,1893.3 L543.3,1888.3 L550,1878.3 L556.7,1860 L561.7,1826.7 L566.7,1776.7 L571.7,1720 L576.7,1676.7 L581.7,1633.3 L586.7,1610 L593.3,1600 L600,1613.3 L606.7,1653.3 L613.3,1713.3 L620,1776.7 L626.7,1826.7 L633.3,1860 L640,1868.3 L646.7,1860 L656.7,1836.7 L666.7,1823.3 L676.7,1819.3 L686.7,1823.3 L700,1833.3 L713.3,1842.7 L733.3,1846 L753.3,1840 L780,1830 L813.3,1823.3 L836.7,1820 L860,1816.7 L956.4,1806 L1076,1799.5 L1195.8,1795.5 L1315.4,1793.5 L1435,1794.5 L1700,1794.5"/>
<path class="d p" d="M240,1822 L291.7,1821 L430,1820 L533.3,1819.3"/>
<path class="d p sm" d="M533.3,1819.3 L538.3,1836.7 L546.7,1846.7 L560,1858.3 L573.3,1876.7 L586.7,1891.7 L603.3,1897.3 L620,1893.3 L640,1884 L663.3,1880 L686.7,1883.3 L713.3,1890 L746.7,1895 L813.3,1901.7 L860,1906.7 L956.4,1914 L1076,1917.6 L1195.8,1915 L1315.4,1907.5 L1435,1897.5 L1554.7,1885 L1700,1866.8"/>
</g>
<g class="tk" text-anchor="end">
<text x="228.5" y="1939.7">0.6</text>
<text x="228.5" y="1853.8">0.8</text>
<text x="228.5" y="1768">1</text>
<text x="228.5" y="1682.1">1.2</text>
<text x="228.5" y="1596.2">1.4</text>
<text x="228.5" y="1510.3">1.6</text>
</g>
<g class="tk" text-anchor="middle">
<text x="244.3" y="2000.7">0.199</text>
<text x="389.47" y="2000.7">0.1995</text>
<text x="534.64" y="2000.7">0.2</text>
<text x="679.81" y="2000.7">0.2005</text>
<text x="824.98" y="2000.7">0.201</text>
<text x="970.15" y="2000.7">0.2015</text>
<text x="1115.32" y="2000.7">0.202</text>
<text x="1260.49" y="2000.7">0.2025</text>
<text x="1405.66" y="2000.7">0.203</text>
<text x="1550.83" y="2000.7">0.2035</text>
<text x="1696" y="2000.7">0.204</text>
</g>
<text class="tt" x="970" y="1462.5" text-anchor="middle">EMT Transients after fault clearing</text>
<text class="lb" text-anchor="middle" transform="translate(155,1710.5) rotate(-90)">Voltage Magnitude [p.u.]</text>
<text class="lb" x="970" y="2062" text-anchor="middle">Time [s]</text>
</svg>
<script>
(function(){
var ps=document.querySelectorAll('path.sm');
for(var k=0;k<ps.length;k++){
 var p=ps[k];
 var n=p.getAttribute('d').match(/-?\d+(\.\d+)?/g).map(Number);
 var x=[],y=[];
 for(var i=0;i+1<n.length;i+=2){x.push(n[i]);y.push(n[i+1]);}
 var N=x.length; if(N<3) continue;
 var s=[],m=[];
 for(var i=0;i<N-1;i++){var dx=x[i+1]-x[i]; if(dx<=0){dx=0.001;} s.push((y[i+1]-y[i])/dx);}
 for(var i=0;i<N;i++){
  if(i==0){m.push(s[0]);}
  else if(i==N-1){m.push(s[N-2]);}
  else if(s[i-1]*s[i]<=0){m.push(0);}
  else{var h0=x[i]-x[i-1],h1=x[i+1]-x[i];var w1=2*h1+h0,w2=h1+2*h0;m.push((w1+w2)/(w1/s[i-1]+w2/s[i]));}
 }
 var d='M'+x[0]+','+y[0];
 for(var i=0;i<N-1;i++){
  var h=(x[i+1]-x[i])/3;
  d+=' C'+(x[i]+h).toFixed(2)+','+(y[i]+m[i]*h).toFixed(2)+' '+(x[i+1]-h).toFixed(2)+','+(y[i+1]-m[i+1]*h).toFixed(2)+' '+x[i+1]+','+y[i+1];
 }
 p.setAttribute('d',d);
}
})();
</script>
</body>
</html>
